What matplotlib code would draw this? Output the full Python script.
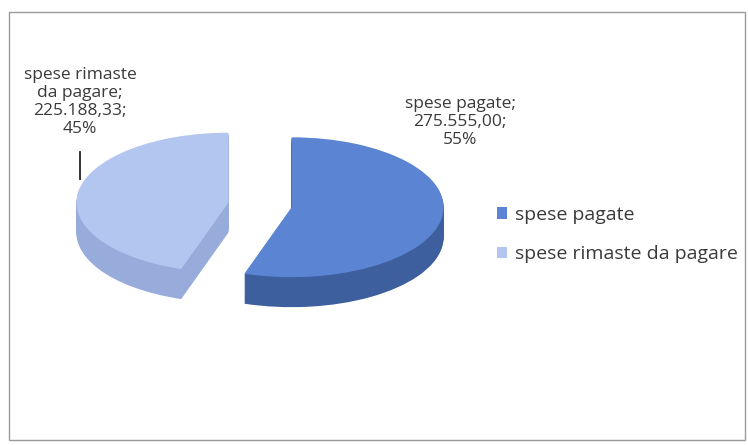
import matplotlib.pyplot as plt
from matplotlib.patches import Patch, Rectangle
from matplotlib.lines import Line2D

labels = ["spese pagate", "spese rimaste da pagare"]
values = [275555.00, 225188.33]
label_lines = ["spese pagate;", "spese rimaste\nda pagare;"]
top_colors = ["#5b84d2", "#b3c6f0"]
side_colors = ["#3e5f9e", "#98acdc"]

W, H = 748, 445
plt.rcParams['font.family'] = ['Open Sans', 'DejaVu Sans']
fig = plt.figure(figsize=(W / 100, H / 100), dpi=100)

# pie axes: x in pixels, y squashed so the circle looks like an ellipse
k = 0.46
ax = fig.add_axes([0, 0, 1, 1])

cx, cy = 261, 205          # pixel centre of top face
r = 152
depth = 30
explode = [31, 33]         # matplotlib explode is in data units here

for d in range(depth, 0, -1):
    ax.pie(values, colors=side_colors, startangle=90, counterclock=False,
           radius=r, center=(cx, (H - cy - d) / k), explode=explode,
           wedgeprops=dict(linewidth=0), frame=True)
ax.pie(values, colors=top_colors, startangle=90, counterclock=False,
       radius=r, center=(cx, (H - cy) / k), explode=explode,
       wedgeprops=dict(linewidth=0), frame=True)
ax.set_aspect('auto')
ax.set_xlim(0, W)
ax.set_ylim(0, H / k)
ax.axis('off')


def it_num(v):
    s = f"{v:,.2f}"
    return s.replace(",", "X").replace(".", ",").replace("X", ".")


total = sum(values)
texts = [f"{label_lines[i]}\n{it_num(values[i])};\n{round(values[i] / total * 100):.0f}%"
         for i in range(len(values))]

txt_kw = dict(ha='center', va='center', fontsize=12.5, color='#3a3a3a', linespacing=1.15)
fig.text(460 / W, 1 - 122 / H, texts[0], **txt_kw)
fig.text(80 / W, 1 - 102 / H, texts[1], **txt_kw)

# leader line for the left label
fig.add_artist(Line2D([80 / W, 80 / W], [1 - 152 / H, 1 - 179 / H],
                      color='#222222', linewidth=1.3))

handles = [Patch(facecolor=c, edgecolor='none') for c in top_colors]
fig.legend(handles, labels, loc='upper left', bbox_to_anchor=(497 / W, 1 - 206 / H),
           frameon=False, fontsize=14, labelcolor='#3a3a3a',
           handlelength=0.5, handleheight=0.55, handletextpad=0.45,
           labelspacing=1.1, borderaxespad=0, borderpad=0)

# chart frame
fig.add_artist(Rectangle((9 / W, 1 - 440 / H), (745 - 9) / W, (440 - 12) / H,
                         transform=fig.transFigure, fill=False,
                         edgecolor='#9a9a9a', linewidth=1.0))

fig.savefig("out.png", dpi=100)
